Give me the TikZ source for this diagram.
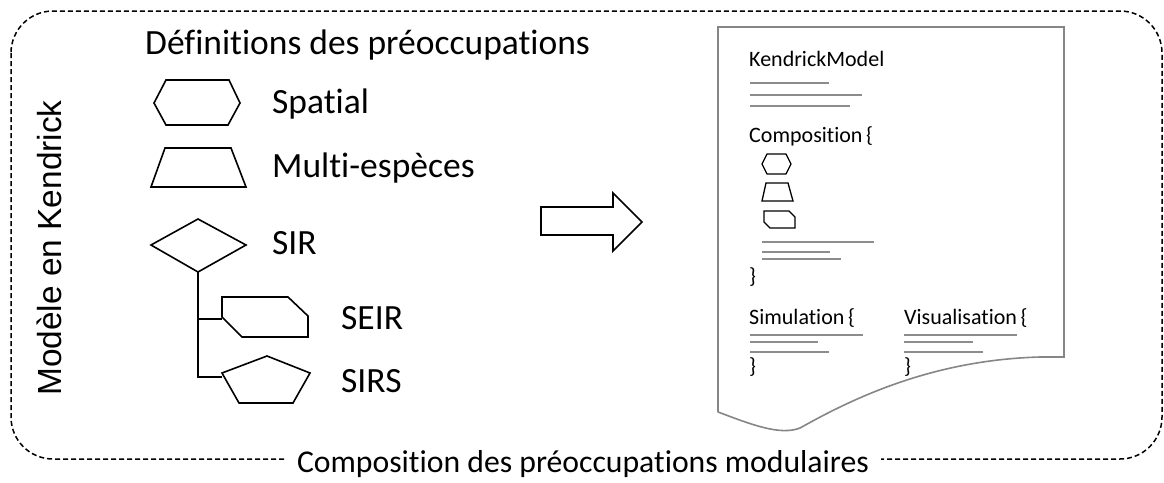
\documentclass[tikz,border=0pt]{standalone}
\usepackage{fontspec}
\setmainfont{Carlito}[Ligatures=NoCommon]
\newfontfamily\armodel{Liberation Sans}
\begin{document}
\begin{tikzpicture}[x=1pt,y=-1pt,
  shp/.style={draw=black,line width=1.6pt,line join=miter},
  big/.style={font=\fontsize{35.5}{40}\selectfont,inner sep=0pt},
  doc/.style={font=\fontsize{22}{26}\selectfont,inner sep=0pt,anchor=base west},
  gl/.style={draw=gray!90,line width=1.5pt},
  smallshp/.style={draw=black,line width=1.3pt}]
\useasboundingbox (0,0) rectangle (1164,482);
% outer dashed frame
\draw[line width=1.5pt,dash pattern=on 5pt off 3pt,rounded corners=42pt] (11,11) rectangle (1162,459);
\node[font=\fontsize{31.7}{36}\selectfont,inner sep=0pt,fill=white,inner xsep=12pt,inner ysep=4pt] (bottom) at (583,464) {Composition des préoccupations modulaires};
\node[font=\armodel\fontsize{33.4}{38}\selectfont,inner sep=0pt,rotate=90] (model) at (49,248) {Modèle en Kendrick};
\node[big,anchor=west] (title) at (145,45) {Définitions des préoccupations};
% hexagon
\draw[shp] (154,103) -- (166,80) -- (229,80) -- (240,103) -- (228,125) -- (166,125) -- cycle;
\node[big,anchor=west] (spatial) at (272,104) {Spatial};
% trapezoid
\draw[shp] (165,148) -- (231,148) -- (246,187) -- (151,187) -- cycle;
\node[big,anchor=west] (multi) at (272,168) {Multi-espèces};
% diamond
\draw[shp] (198,219) -- (246,245) -- (198,272) -- (151,245) -- cycle;
\coordinate (sirb) at (198,272);
\node[big,anchor=west] (sir) at (272,243) {SIR};
% SEIR shape
\draw[shp] (222,297) -- (288,297) -- (308,316) -- (308,337) -- (242,337) -- (222,317) -- cycle;
\coordinate (seirl) at (222,319);
\node[big,anchor=west] (seir) at (341,318) {SEIR};
% pentagon
\draw[shp] (267,356) -- (310,373) -- (293,403) -- (239,403) -- (222,373) -- cycle;
\coordinate (sirsl) at (222,377);
\node[big,anchor=west] (sirs) at (341,381) {SIRS};
% tree
\draw[line width=1.6pt] (sirb) |- (seirl);
\draw[line width=1.6pt] (sirb) |- (sirsl);
% big arrow
\draw[shp] (541,207) -- (613,207) -- (613,193) -- (642,222) -- (613,251) -- (613,235) -- (541,235) -- cycle;
% document
\draw[draw=gray!95,line width=1.6pt] (718,412) -- (718,27) -- (1064,27) -- (1064,357) -- (1040,357) .. controls (930,360) and (850,400) .. (800,428) .. controls (780,436) and (750,424) .. (718,412);
\node[doc] (km) at (749,66) {KendrickModel};
\draw[gl] (750,83) -- (829,83);
\draw[gl] (750,95) -- (862,95);
\draw[gl] (750,106) -- (850,106);
\node[doc] (comp) at (749,142) {Composition\,\{};
\draw[smallshp] (762,164) -- (767,154) -- (786,154) -- (791,164) -- (786,174) -- (767,174) -- cycle;
\draw[smallshp] (766,183) -- (788,183) -- (793,201) -- (762,201) -- cycle;
\draw[smallshp] (764,211) -- (789,211) -- (795,217) -- (795,228) -- (770,228) -- (764,222) -- cycle;
\draw[gl] (762,242) -- (874,242);
\draw[gl] (762,252) -- (830,252);
\draw[gl] (762,259) -- (841,259);
\node[doc] (cend) at (749,283) {\}};
\node[doc] (sim) at (749,324) {Simulation\,\{};
\draw[gl] (750,335) -- (863,335);
\draw[gl] (750,342) -- (818,342);
\draw[gl] (750,352) -- (829,352);
\node[doc] (send) at (749,373) {\}};
\node[doc] (vis) at (904,324) {Visualisation\,\{};
\draw[gl] (904,335) -- (1017,335);
\draw[gl] (904,342) -- (973,342);
\draw[gl] (904,352) -- (983,352);
\node[doc] (vend) at (904,373) {\}};
\end{tikzpicture}
\end{document}
